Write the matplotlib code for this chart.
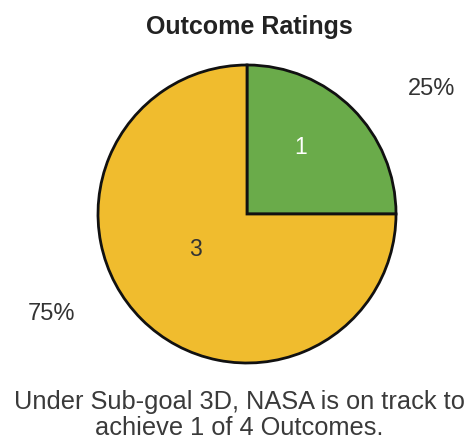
import matplotlib
matplotlib.use('Agg')
import matplotlib.pyplot as plt

# Datos
ratings = ['1', '3']
counts = [1, 3]
colors = ['#6aab4a', '#f0bc2e']
total = sum(counts)
pct_labels = ['{:.0f}%'.format(100 * c / total) for c in counts]

plt.rcParams['font.family'] = ['Liberation Sans', 'DejaVu Sans']

W, H = 474, 444
fig = plt.figure(figsize=(W / 100, H / 100), dpi=100)
ax = fig.add_axes([0, 0, 1, 1])

cx, cy, r = 247, H - 214, 149

ax.pie(
    counts,
    colors=colors,
    startangle=90,
    counterclock=False,
    center=(cx, cy),
    radius=r,
    wedgeprops=dict(edgecolor='#111111', linewidth=2.0),
)
ax.set_xlim(0, W)
ax.set_ylim(0, H)
ax.set_aspect('auto')
ax.axis('off')

# numeros dentro de cada sector
ax.text(cx + 54, cy + 66, ratings[0], color='white', fontsize=16.5,
        ha='center', va='center')
ax.text(cx - 52, cy - 36, ratings[1], color='#333333', fontsize=16.5,
        ha='center', va='center')

# porcentajes fuera del circulo
ax.text(432, H - 89, pct_labels[0], color='#333333', fontsize=17,
        ha='center', va='center')
ax.text(52, H - 314, pct_labels[1], color='#333333', fontsize=17,
        ha='center', va='center')

ax.text(W / 2 + 12, H - 27, 'Outcome Ratings', color='#222222', fontsize=18,
        fontweight='bold', ha='center', va='center')

ax.text(W / 2 + 2, H - 415,
        'Under Sub-goal 3D, NASA is on track to\nachieve 1 of 4 Outcomes.',
        color='#3a3a3a', fontsize=18.3, ha='center', va='center',
        linespacing=1.15)

fig.savefig('out.png', dpi=100)
